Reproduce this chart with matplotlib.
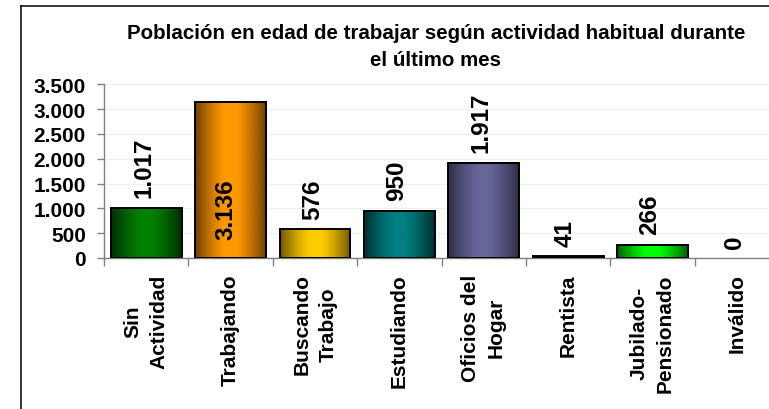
import numpy as np
import matplotlib
matplotlib.use('Agg')
import matplotlib.pyplot as plt
from matplotlib.colors import to_rgb
from matplotlib.lines import Line2D

plt.rcParams['font.family'] = ['Liberation Sans', 'DejaVu Sans']
plt.rcParams['font.weight'] = 'bold'

# datos
categorias = ['Sin\nActividad', 'Trabajando', 'Buscando\nTrabajo', 'Estudiando',
              'Oficios del\nHogar', 'Rentista', 'Jubilado-\nPensionado', 'Inválido']
valores = [1017, 3136, 576, 950, 1917, 41, 266, 0]
etiquetas = ['1.017', '3.136', '576', '950', '1.917', '41', '266', '0']
colores_centro = ['#008000', '#ff9900', '#ffcc00', '#008080', '#666699', '#202020', '#00ff00', '#808080']
colores_borde = ['#003000', '#704000', '#705a00', '#003030', '#2e2e48', '#000000', '#006000', '#404040']
y_ticks = [0, 500, 1000, 1500, 2000, 2500, 3000, 3500]
y_labels = ['0', '500', '1.000', '1.500', '2.000', '2.500', '3.000', '3.500']
titulo = 'Población en edad de trabajar según actividad habitual durante\nel último mes'


def gradiente(c_borde, c_centro, n=64):
    # degradado horizontal: oscuro en los bordes, claro en el centro
    x = np.linspace(0, 1, n)
    t = np.clip(np.abs(x - 0.5) * 2 - 0.15, 0, 1) / 0.85
    t = t ** 1.3
    a = np.array(to_rgb(c_centro))
    b = np.array(to_rgb(c_borde))
    fila = a[None, :] * (1 - t[:, None]) + b[None, :] * t[:, None]
    return fila[None, :, :]


fig = plt.figure(figsize=(7.69, 4.10), dpi=100)
ax = fig.add_axes([104 / 769, 1 - 259 / 410, 675 / 769, (259 - 85.3) / 410])

x = np.arange(len(valores))
barras = ax.bar(x, valores, width=0.84, edgecolor='black', linewidth=1.4,
                facecolor='none', zorder=3)

for i, b in enumerate(barras):
    if valores[i] <= 0:
        b.set_linewidth(0)
        continue
    x0, y0 = b.get_x(), b.get_y()
    w, h = b.get_width(), b.get_height()
    im = ax.imshow(gradiente(colores_borde[i], colores_centro[i]),
                   extent=[x0, x0 + w, y0, y0 + h], aspect='auto',
                   interpolation='bilinear', zorder=2)
    im.set_clip_path(b)

# etiquetas de datos
for i, v in enumerate(valores):
    if i == 1:
        ax.text(i - 0.05, 380, etiquetas[i], rotation=90, ha='center', va='bottom',
                fontsize=17.5, fontweight='bold', zorder=4)
    else:
        ax.annotate(etiquetas[i], (i - 0.03, v), xytext=(0, 7.5), textcoords='offset points',
                    rotation=90, ha='center', va='bottom', fontsize=17.5,
                    fontweight='bold', zorder=4)

ax.set_xlim(-0.5, len(valores) - 0.5)
ax.set_ylim(0, 3500)

ax.set_yticks(y_ticks)
ax.set_yticklabels(y_labels, fontsize=15, fontweight='bold')
ax.tick_params(axis='y', length=5, width=1, color='#808080', pad=8)

ax.set_xticks(x)
ax.set_xticklabels(categorias, rotation=90, fontsize=15, fontweight='bold',
                   ha='center', va='top', multialignment='center', linespacing=1.45)
ax.set_xticks(np.arange(len(valores) + 1) - 0.5, minor=True)
ax.tick_params(axis='x', which='major', length=0, pad=11)
ax.tick_params(axis='x', which='minor', length=6, width=1, color='#808080')

ax.grid(axis='y', color='#e8f6e8', linewidth=1, zorder=0)
ax.set_axisbelow(True)
for s in ['top', 'right']:
    ax.spines[s].set_visible(False)
for s in ['left', 'bottom']:
    ax.spines[s].set_color('#808080')
    ax.spines[s].set_linewidth(1)

fig.text(436 / 769, 1 - 24 / 410, titulo, ha='center', va='top', fontsize=14.8,
         fontweight='bold', linespacing=1.5)

# marco del grafico
fig.add_artist(Line2D([21 / 769, 21 / 769], [0, 1 - 7 / 410], color='black', linewidth=1.1))
fig.add_artist(Line2D([21 / 769, 1], [1 - 7 / 410, 1 - 7 / 410], color='black', linewidth=1.1))

fig.savefig('out.png', dpi=100)
